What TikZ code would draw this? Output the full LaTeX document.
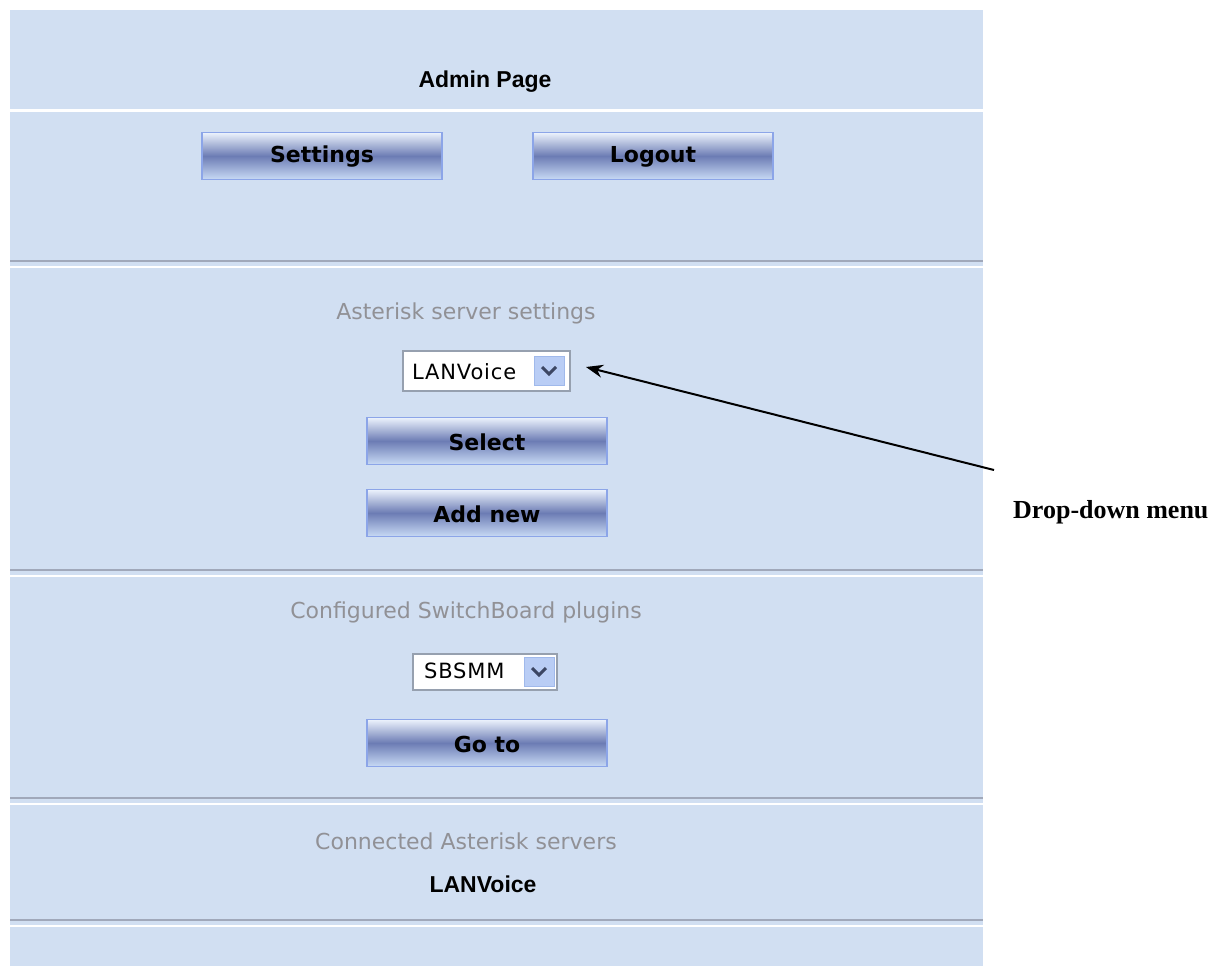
\documentclass[tikz,border=0pt]{standalone}
\usepackage{fontspec}
\setmainfont{DejaVu Sans}
\newfontfamily\serifB{Liberation Serif}
\newfontfamily\arialB{Liberation Sans}
\newfontfamily\uifont[LetterSpace=4]{DejaVu Sans}
\usetikzlibrary{arrows.meta}
\definecolor{panel}{RGB}{209,223,242}
\definecolor{sepgray}{RGB}{160,168,186}
\definecolor{btnmid}{RGB}{108,124,180}
\definecolor{btnlight}{RGB}{236,243,253}
\definecolor{btnbot}{RGB}{200,218,245}
\definecolor{btnborder}{RGB}{140,165,232}
\definecolor{graytext}{RGB}{145,145,150}
\definecolor{ddborder}{RGB}{150,160,175}
\definecolor{ddbtn}{RGB}{185,205,245}
\definecolor{ddbtnb}{RGB}{160,185,235}
\definecolor{chev}{RGB}{60,70,100}
\tikzset{
  btnstyle/.style={minimum width=240pt, minimum height=47pt, inner sep=0pt,
    font=\fontsize{22}{24}\selectfont\bfseries, text=black},
  ddstyle/.style={draw=ddborder, line width=1.5pt, fill=white},
  capt/.style={font=\fontsize{22}{24}\selectfont, text=graytext},
  boldlbl/.style={font=\arialB\fontsize{23}{25}\selectfont\bfseries, text=black},
  ddtext/.style={font=\uifont\fontsize{21}{23}\selectfont, anchor=west, inner sep=0pt},
}
\newcommand{\webbutton}[4]{% name, x, y(center), label
  \shade[top color=btnlight, bottom color=btnbot, middle color=btnmid]
    (#2-120,#3-23.5) rectangle (#2+120,#3+23.5);
  \draw[btnborder, line width=1.5pt] (#2-120,#3-23.5) rectangle (#2+120,#3+23.5);
  \node[btnstyle] (#1) at (#2,#3+1) {#4};
}
\newcommand{\sepline}[1]{%
  \fill[sepgray] (10,#1-1.2) rectangle (983,#1+1.2);
  \fill[white] (10,#1+4.5) rectangle (983,#1+6.5);
}
\newcommand{\ddarrow}[2]{% x-left, y-top of the small button
  \fill[ddbtn] (#1,#2) rectangle (#1+30,#2+29);
  \draw[ddbtnb, line width=0.8pt] (#1,#2) rectangle (#1+30,#2+29);
  \draw[chev, line width=3pt] (#1+8,#2+11) -- (#1+15,#2+18) -- (#1+22,#2+11);
}
\begin{document}
\begin{tikzpicture}[x=1pt,y=-1pt]
\useasboundingbox (0,0) rectangle (1215,966);
\fill[white] (0,0) rectangle (1215,966);
\fill[panel] (10,10) rectangle (983,966);
% separators
\fill[white] (10,109) rectangle (983,111.5);
\sepline{261}
\sepline{570}
\sepline{798}
\sepline{920}
% title
\node[boldlbl] (title) at (485,82) {Admin Page};
\webbutton{settings}{322}{156}{Settings}
\webbutton{logout}{653}{156}{Logout}
\node[capt] (ast) at (466,313) {Asterisk server settings};
% dropdown 1
\draw[ddstyle] (403,351) rectangle (570,391);
\node[ddtext] (dd1) at (412,372) {LANVoice};
\ddarrow{534}{356}
\coordinate (dd1e) at (586,367);
\webbutton{select}{487}{441}{Select}
\webbutton{addnew}{487}{513}{Add new}
\node[capt] (cfg) at (466,612) {Configured SwitchBoard plugins};
% dropdown 2
\draw[ddstyle] (413,654) rectangle (557,690);
\node[ddtext] (dd2) at (424,671) {SBSMM};
\ddarrow{524}{657}
\webbutton{goto}{487}{743}{Go to}
\node[capt] (conn) at (466,841) {Connected Asterisk servers};
\node[boldlbl] (lanv) at (483,884) {LANVoice};
% annotation
\node[font=\serifB\fontsize{26}{28}\selectfont\bfseries, anchor=west, inner sep=0pt] (ddm) at (1013,512) {Drop-down menu};
\coordinate (arrs) at (994,470);
\draw[-{Stealth[length=17pt,width=13pt]}, line width=2pt] (arrs) -- (dd1e);
\end{tikzpicture}
\end{document}
